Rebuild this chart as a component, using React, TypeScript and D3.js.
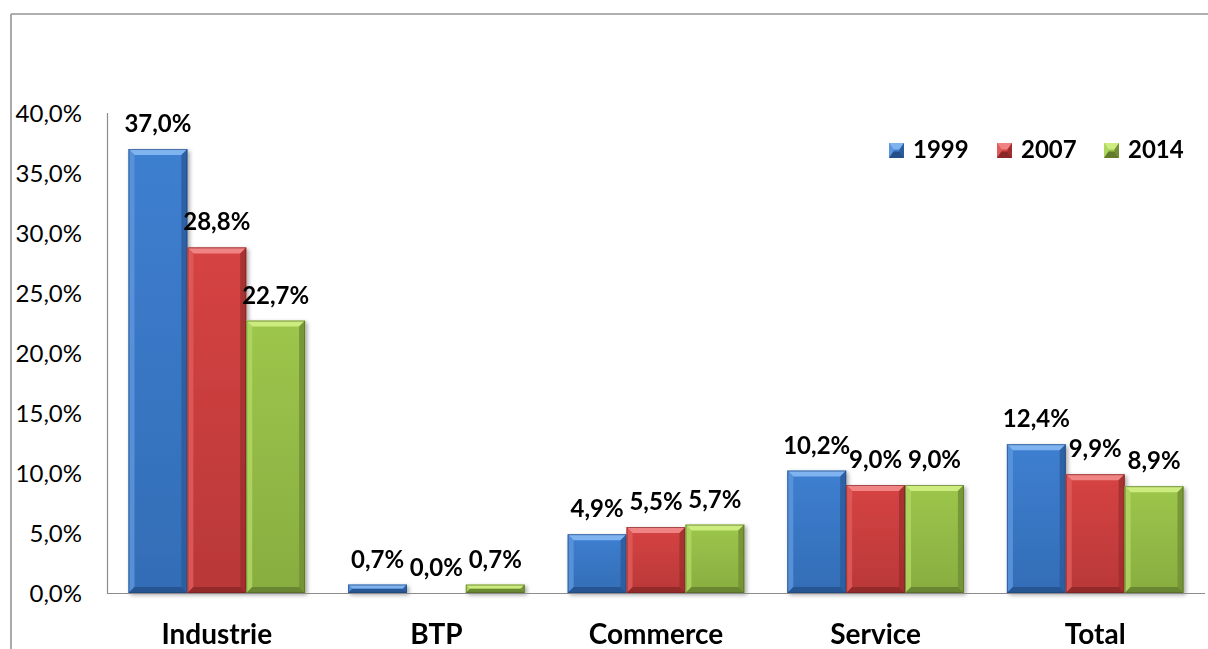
import React from 'react';
import * as d3 from 'd3';

const categories = ['Industrie', 'BTP', 'Commerce', 'Service', 'Total'];
const seriesNames = ['1999', '2007', '2014'];
const values1999 = [37.0, 0.7, 4.9, 10.2, 12.4];
const values2007 = [28.8, 0.0, 5.5, 9.0, 9.9];
const values2014 = [22.7, 0.7, 5.7, 9.0, 8.9];
const yTicks = [0, 5, 10, 15, 20, 25, 30, 35, 40];

const seriesValues = [values1999, values2007, values2014];

const palette = [
  { top: '#80b4f0', left: '#5c95dc', main: '#3e7fd0', bottomMain: '#336db6', right: '#2b5c9c', bottom: '#244f88', edge: '#1f4577' },
  { top: '#f08484', left: '#df5c5c', main: '#d64343', bottomMain: '#b93838', right: '#a02e2e', bottom: '#8a2727', edge: '#772020' },
  { top: '#cdec80', left: '#b0d760', main: '#9dc64c', bottomMain: '#88ad40', right: '#728f35', bottom: '#627c2c', edge: '#4f6524' },
];

const W = 1208;
const H = 649;
const x0 = 107;
const x1 = 1205;
const yBase = 593;
const yTop = 113;
const FONT = "Lato, 'Noto Sans', sans-serif";
const fmt = (v: number) => v.toFixed(1).replace('.', ',') + '%';

function Bevel({ x, y, w, h, c, id, b0 }: any) {
  if (h <= 0) return null;
  const b = Math.min(b0, h / 2, w / 2);
  const x2 = x + w, y2 = y + h;
  const pts = (a: number[][]) => a.map(p => p.join(',')).join(' ');
  return (
    <g>
      <rect x={x} y={y} width={w} height={h} fill={`url(#${id})`} />
      <polygon points={pts([[x, y], [x2, y], [x2 - b, y + b], [x + b, y + b]])} fill={c.top} />
      <polygon points={pts([[x, y], [x + b, y + b], [x + b, y2 - b], [x, y2]])} fill={c.left} opacity={0.85} />
      <polygon points={pts([[x2, y], [x2, y2], [x2 - b, y2 - b], [x2 - b, y + b]])} fill={c.right} opacity={0.85} />
      <polygon points={pts([[x, y2], [x + b, y2 - b], [x2 - b, y2 - b], [x2, y2]])} fill={c.bottom} opacity={0.8} />
      <rect x={x + 0.5} y={y + 0.5} width={w - 1} height={h - 1} fill="none" stroke={c.edge} strokeWidth={1} opacity={0.6} />
    </g>
  );
}

export default function App() {
  const xCat = d3.scaleBand<string>().domain(categories).range([x0, x1]).padding(0);
  const gap = 43;
  const xSer = d3.scaleBand<string>().domain(seriesNames).range([gap / 2, xCat.bandwidth() - gap / 2]).padding(0);
  const y = d3.scaleLinear().domain([0, 40]).range([yBase, yTop]);

  const legendX = [889, 997, 1104];

  return (
    <svg width={W} height={H} style={{ position: 'absolute', left: 0, top: 0, background: '#fff' }}>
      <defs>
        {palette.map((c, i) => (
          <linearGradient key={i} id={`g${i}`} x1="0" y1="0" x2="0" y2="1">
            <stop offset="0" stopColor={c.main} />
            <stop offset="1" stopColor={c.bottomMain} />
          </linearGradient>
        ))}
        <filter id="sh" x="-10%" y="-10%" width="130%" height="130%">
          <feGaussianBlur in="SourceAlpha" stdDeviation="2" />
          <feOffset dx="1.5" dy="2" result="o" />
          <feComponentTransfer><feFuncA type="linear" slope="0.35" /></feComponentTransfer>
          <feMerge><feMergeNode /><feMergeNode in="SourceGraphic" /></feMerge>
        </filter>
      </defs>
      <rect x={0} y={0} width={W} height={H} fill="#fff" />
      {/* frame */}
      <line x1={11} y1={14} x2={W} y2={14} stroke="#959595" strokeWidth={1.6} />
      <line x1={11} y1={14} x2={11} y2={H} stroke="#959595" strokeWidth={1.6} />

      {/* y ticks */}
      {yTicks.map(t => (
        <text key={t} x={82} y={y(t)} dy="0.36em" textAnchor="end" fontFamily={FONT} fontSize={24} fill="#000">
          {fmt(t)}
        </text>
      ))}

      {/* bars */}
      <g filter="url(#sh)">
        {categories.map((cat, ci) =>
          seriesNames.map((s, si) => {
            const v = seriesValues[si][ci];
            const bx = (xCat(cat) as number) + (xSer(s) as number);
            const top = y(v);
            return (
              <Bevel key={cat + s} x={bx} y={top} w={xSer.bandwidth()} h={yBase - top} c={palette[si]} id={`g${si}`} b0={6} />
            );
          })
        )}
      </g>

      {/* axes */}
      <line x1={x0 + 0.5} y1={yTop} x2={x0 + 0.5} y2={yBase + 1} stroke="#8c8c8c" strokeWidth={1.2} />
      <line x1={x0} y1={yBase + 0.5} x2={x1} y2={yBase + 0.5} stroke="#8c8c8c" strokeWidth={1.2} />

      {/* data labels */}
      {categories.map((cat, ci) =>
        seriesNames.map((s, si) => {
          const v = seriesValues[si][ci];
          const cx = (xCat(cat) as number) + (xSer(s) as number) + xSer.bandwidth() / 2;
          return (
            <text key={'l' + cat + s} x={cx} y={y(v) - 17} textAnchor="middle" fontFamily={FONT} fontWeight="bold" fontSize={24} fill="#000">
              {fmt(v)}
            </text>
          );
        })
      )}

      {/* category labels */}
      {categories.map(cat => (
        <text key={'c' + cat} x={(xCat(cat) as number) + xCat.bandwidth() / 2} y={644} textAnchor="middle" fontFamily={FONT} fontWeight="bold" fontSize={28} fill="#000">
          {cat}
        </text>
      ))}

      {/* legend */}
      {seriesNames.map((s, i) => {
        const lx = legendX[i];
        const ly = 143;
        const sz = 15;
        const c = palette[i];
        const m = 3;
        const pts = (a: number[][]) => a.map(p => p.join(',')).join(' ');
        return (
          <g key={'lg' + s}>
            <rect x={lx} y={ly} width={sz} height={sz} fill={c.main} />
            <polygon points={pts([[lx, ly], [lx + sz, ly], [lx + sz / 2 + m, ly + sz / 2 - 1], [lx + sz / 2 - m, ly + sz / 2 - 1]])} fill={c.top} />
            <polygon points={pts([[lx, ly], [lx + sz / 2 - m, ly + sz / 2 - 1], [lx + sz / 2 - m, ly + sz / 2 + 1], [lx, ly + sz]])} fill={c.left} />
            <polygon points={pts([[lx + sz, ly], [lx + sz, ly + sz], [lx + sz / 2 + m, ly + sz / 2 + 1], [lx + sz / 2 + m, ly + sz / 2 - 1]])} fill={c.right} />
            <polygon points={pts([[lx, ly + sz], [lx + sz / 2 - m, ly + sz / 2 + 1], [lx + sz / 2 + m, ly + sz / 2 + 1], [lx + sz, ly + sz]])} fill={c.bottom} />
            <text x={lx + 24} y={ly + 15} fontFamily={FONT} fontWeight="bold" fontSize={24} fill="#000">
              {s}
            </text>
          </g>
        );
      })}
    </svg>
  );
}
